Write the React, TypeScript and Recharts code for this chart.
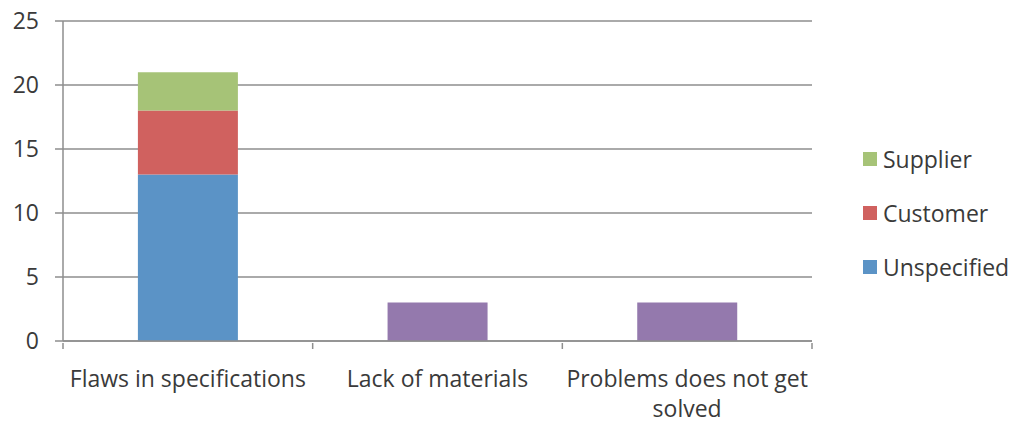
import { Bar, BarChart, CartesianGrid, XAxis, YAxis } from 'recharts';

const categories = ['Flaws in specifications', 'Lack of materials', 'Problems does not get solved'];
const unspecified = [13, 0, 0];
const customer = [5, 0, 0];
const supplier = [3, 0, 0];
const other = [0, 3, 3];
const yTicks = [0, 5, 10, 15, 20, 25];

const data = categories.map((name, i) => ({
  name,
  unspecified: unspecified[i],
  customer: customer[i],
  supplier: supplier[i],
  other: other[i],
}));

const colors = {
  unspecified: '#5b93c6',
  customer: '#d0615f',
  supplier: '#a6c377',
  other: '#9479ad',
};

// legend lists the named series only, top to bottom
const legendItems = [
  { label: 'Supplier', color: colors.supplier },
  { label: 'Customer', color: colors.customer },
  { label: 'Unspecified', color: colors.unspecified },
];

const font = '"Open Sans", sans-serif';
const fontSize = 23;
const textColor = '#3a3a3a';
const gridColor = '#8e8e8e';

// greedy word wrap by character count
function wrap(label: string, maxChars = 23) {
  const lines: string[] = [];
  let line = '';
  for (const word of label.split(' ')) {
    const next = line ? `${line} ${word}` : word;
    if (next.length > maxChars && line) {
      lines.push(line);
      line = word;
    } else {
      line = next;
    }
  }
  if (line) lines.push(line);
  return lines;
}

// category label, wrapped, with a small boundary tick on each side of the band
function CategoryTick(props: any) {
  const { x, y, payload, index } = props;
  const half = payload.offset ?? 0;
  return (
    <g>
      <line x1={x - half} x2={x - half} y1={y} y2={y + 6} stroke={gridColor} strokeWidth={1.5} />
      {index === categories.length - 1 && (
        <line x1={x + half} x2={x + half} y1={y} y2={y + 6} stroke={gridColor} strokeWidth={1.5} />
      )}
      <text x={x} y={y + 44} textAnchor="middle" fontSize={fontSize} fill={textColor}>
        {wrap(payload.value).map((line, i) => (
          <tspan key={i} x={x} dy={i === 0 ? 0 : 30}>
            {line}
          </tspan>
        ))}
      </text>
    </g>
  );
}

export default function App() {
  return (
    <div style={{ position: 'absolute', left: 0, top: 0, fontFamily: font, background: '#fff' }}>
      <BarChart
        width={1017}
        height={425}
        data={data}
        margin={{ top: 21, right: 205, left: 0, bottom: 0 }}
        barCategoryGap="30%"
      >
        <CartesianGrid vertical={false} stroke={gridColor} strokeWidth={1.5} />
        <XAxis
          dataKey="name"
          height={84}
          interval={0}
          axisLine={{ stroke: gridColor, strokeWidth: 1.5 }}
          tickLine={false}
          tickSize={0}
          tick={<CategoryTick />}
        />
        <YAxis
          width={63}
          domain={[0, 25]}
          ticks={yTicks}
          interval={0}
          axisLine={{ stroke: gridColor, strokeWidth: 1.5 }}
          tickLine={{ stroke: gridColor, strokeWidth: 1.5 }}
          tickSize={8}
          tickMargin={16}
          tick={{ fontSize, fill: textColor }}
        />
        <Bar dataKey="unspecified" name="Unspecified" stackId="a" fill={colors.unspecified} isAnimationActive={false} />
        <Bar dataKey="customer" name="Customer" stackId="a" fill={colors.customer} isAnimationActive={false} />
        <Bar dataKey="supplier" name="Supplier" stackId="a" fill={colors.supplier} isAnimationActive={false} />
        <Bar dataKey="other" name="Other" stackId="a" fill={colors.other} isAnimationActive={false} />
      </BarChart>
      <div style={{ position: 'absolute', left: 863, top: 132 }}>
        {legendItems.map((item) => (
          <div
            key={item.label}
            style={{ display: 'flex', alignItems: 'center', height: 54, fontSize, color: textColor }}
          >
            <span style={{ width: 14, height: 14, background: item.color, marginRight: 6 }} />
            {item.label}
          </div>
        ))}
      </div>
    </div>
  );
}
